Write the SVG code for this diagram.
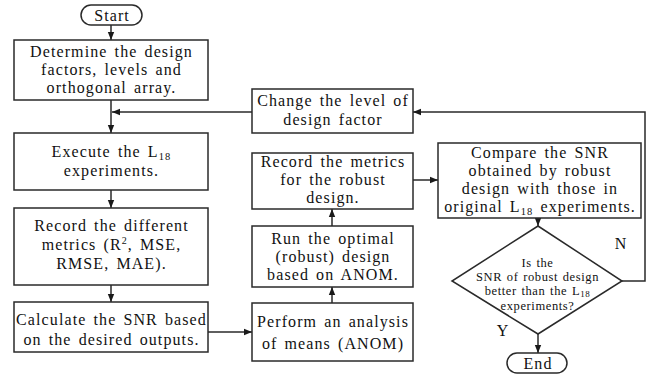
<svg xmlns="http://www.w3.org/2000/svg" width="651" height="375" viewBox="0 0 651 375">
<defs>
<marker id="ah" viewBox="0 0 8 8" refX="8" refY="4" markerWidth="8" markerHeight="8" markerUnits="userSpaceOnUse" orient="auto">
<path d="M0,0.8 L8,4 L0,7.2 Z" fill="#1a1a1a"/>
</marker>
</defs>
<style>
.box{fill:#fff;stroke:#2a2a2a;stroke-width:1.5}
.t{font-family:"Liberation Serif","Times New Roman",serif;font-size:16px;letter-spacing:1.1px;word-spacing:2px;fill:#111;text-anchor:middle}
.s{font-family:"Liberation Serif","Times New Roman",serif;font-size:12.5px;letter-spacing:0.6px;word-spacing:1px;fill:#111;text-anchor:middle}
.c{fill:none;stroke:#2a2a2a;stroke-width:1.5}
.a{marker-end:url(#ah)}
</style>
<rect width="651" height="375" fill="#fff"/>
<g id="connectors">
<line class="c a" x1="111" y1="25" x2="111" y2="40"/>
<line class="c a" x1="111" y1="100" x2="111" y2="133"/>
<line class="c a" x1="252" y1="112" x2="112" y2="112"/>
<line class="c a" x1="111" y1="190" x2="111" y2="208"/>
<line class="c a" x1="111" y1="285" x2="111" y2="302"/>
<line class="c a" x1="208" y1="332" x2="252" y2="332"/>
<line class="c a" x1="332" y1="303" x2="332" y2="287"/>
<line class="c a" x1="332" y1="226" x2="332" y2="209"/>
<line class="c a" x1="413" y1="180" x2="438" y2="180"/>
<line class="c a" x1="538" y1="218" x2="538" y2="226"/>
<polyline class="c a" points="622,281 645,281 645,112 413,112"/>
<line class="c a" x1="538" y1="334" x2="538" y2="353"/>
</g>
<g id="start">
<rect class="box" x="81" y="5" width="61" height="20" rx="10"/>
<text class="t" x="112" y="21">Start</text>
</g>
<g id="determine">
<rect class="box" x="14" y="40" width="194" height="60"/>
<text class="t" x="111.5" y="57">Determine the design</text>
<text class="t" x="111.5" y="75">factors, levels and</text>
<text class="t" x="111.5" y="93">orthogonal array.</text>
</g>
<g id="execute">
<rect class="box" x="14" y="133" width="194" height="57"/>
<text class="t" x="111.5" y="157">Execute the L<tspan font-size="10.5" dy="2.5">18</tspan></text>
<text class="t" x="111.5" y="176">experiments.</text>
</g>
<g id="record-different">
<rect class="box" x="14" y="208" width="194" height="77"/>
<text class="t" x="111.5" y="231">Record the different</text>
<text class="t" x="111.5" y="250">metrics (R<tspan font-size="10" dy="-6">2</tspan><tspan dy="6">, MSE,</tspan></text>
<text class="t" x="111.5" y="269">RMSE, MAE).</text>
</g>
<g id="calculate">
<rect class="box" x="14" y="302" width="194" height="50"/>
<text class="t" x="111.5" y="325">Calculate the SNR based</text>
<text class="t" x="111.5" y="345">on the desired outputs.</text>
</g>
<g id="change">
<rect class="box" x="252" y="89" width="161" height="44"/>
<text class="t" x="333" y="106">Change the level of</text>
<text class="t" x="333" y="125">design factor</text>
</g>
<g id="record-robust">
<rect class="box" x="252" y="153" width="161" height="56"/>
<text class="t" x="333" y="167">Record the metrics</text>
<text class="t" x="333" y="185">for the robust</text>
<text class="t" x="333" y="203">design.</text>
</g>
<g id="run">
<rect class="box" x="252" y="226" width="161" height="61"/>
<text class="t" x="333" y="244">Run the optimal</text>
<text class="t" x="333" y="262">(robust) design</text>
<text class="t" x="333" y="280">based on ANOM.</text>
</g>
<g id="perform">
<rect class="box" x="252" y="303" width="161" height="58"/>
<text class="t" x="333" y="327">Perform an analysis</text>
<text class="t" x="333" y="349">of means (ANOM)</text>
</g>
<g id="compare">
<rect class="box" x="438" y="143" width="203" height="75"/>
<text class="t" x="540" y="158">Compare the SNR</text>
<text class="t" x="540" y="176">obtained by robust</text>
<text class="t" x="540" y="194">design with those in</text>
<text class="t" x="540" y="212">original L<tspan font-size="10.5" dy="2.5">18</tspan><tspan dy="-2.5"> experiments.</tspan></text>
</g>
<g id="decision">
<polygon class="box" points="538,226 622,281 538,334 452,281"/>
<text class="s" x="537.5" y="267">Is the</text>
<text class="s" x="537.5" y="281">SNR of robust design</text>
<text class="s" x="537.5" y="295">better than the L<tspan font-size="9" dy="1.5">18</tspan></text>
<text class="s" x="537.5" y="309.5">experiments?</text>
<text class="t" x="621" y="249">N</text>
<text class="t" x="503" y="336">Y</text>
</g>
<g id="end">
<rect class="box" x="507" y="353" width="60" height="20" rx="10"/>
<text class="t" x="538" y="369">End</text>
</g>
</svg>
